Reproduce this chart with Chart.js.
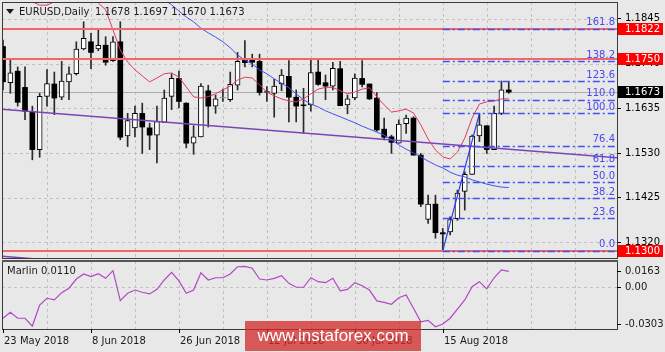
<!DOCTYPE html>
<html>
<head>
<meta charset="utf-8">
<script src="https://cdn.jsdelivr.net/npm/chart.js@4.4.0/dist/chart.umd.min.js"></script>
<style>
html,body{margin:0;padding:0;background:#e8e8e8;}
#wrap{position:relative;width:665px;height:352px;overflow:hidden;background:#e8e8e8;}
#c1{position:absolute;left:0;top:0;}
#c2{position:absolute;left:0;top:259px;}
#wm{position:absolute;left:245px;top:321px;width:176px;height:30px;background:rgba(210,42,42,0.76);color:#fff;
font:17px "Liberation Sans",Arial,sans-serif;line-height:30px;text-align:center;}
</style>
</head>
<body>
<div id="wrap">
<canvas id="c1" width="665" height="259"></canvas>
<canvas id="c2" width="665" height="93"></canvas>
<div id="wm">www.instaforex.com</div>
</div>
<script>
// ---------------- data ----------------
const symbolTitle = 'EURUSD,Daily';
const dateLabels = ['23 May 2018','8 Jun 2018','26 Jun 2018','12 Jul 2018','30 Jul 2018','15 Aug 2018'];
const dateBars = [0,12,24,36,48,60];
const gridBars = [6,12,18,24,30,36,42,48,54,60,66,72,78];
const priceTicks = [1.1320,1.1425,1.1530,1.1635,1.1740,1.1845];

const opens = [1.1780,1.1695,1.1722,1.1684,1.1626,1.1538,1.1663,1.1692,1.1661,1.1697,
1.1716,1.1774,1.1791,1.1774,1.1783,1.1747,1.1791,1.1570,1.1589,1.1623,
1.1589,1.1572,1.1602,1.1663,1.1705,1.1647,1.1553,1.1568,1.1676,1.1640,
1.1659,1.1655,1.1689,1.1749,1.1749,1.1745,1.1674,1.1670,1.1692,1.1710,
1.1661,1.1643,1.1643,1.1720,1.1695,1.1687,1.1728,1.1643,1.1659,1.1705,
1.1692,1.1659,1.1586,1.1568,1.1553,1.1599,1.1612,1.1525,1.1374,1.1410,
1.1343,1.1345,1.1376,1.1440,1.1480,1.1570,1.1594,1.1538,1.1623,1.1678];
const highs = [1.1795,1.1749,1.1732,1.1732,1.1640,1.1670,1.1726,1.1720,1.1745,1.1732,
1.1791,1.1838,1.1811,1.1818,1.1803,1.1803,1.1838,1.1623,1.1640,1.1647,
1.1600,1.1640,1.1678,1.1716,1.1722,1.1648,1.1594,1.1693,1.1689,1.1666,
1.1680,1.1720,1.1766,1.1794,1.1762,1.1762,1.1686,1.1703,1.1726,1.1747,
1.1678,1.1682,1.1749,1.1749,1.1713,1.1743,1.1745,1.1666,1.1716,1.1747,
1.1692,1.1672,1.1612,1.1572,1.1608,1.1619,1.1615,1.1529,1.1431,1.1431,
1.1353,1.1380,1.1443,1.1486,1.1572,1.1623,1.1594,1.1640,1.1699,1.1697];
const lows = [1.1678,1.1670,1.1640,1.1608,1.1514,1.1520,1.1640,1.1620,1.1655,1.1655,
1.1713,1.1772,1.1728,1.1770,1.1736,1.1745,1.1561,1.1545,1.1568,1.1529,
1.1538,1.1507,1.1602,1.1632,1.1636,1.1542,1.1527,1.1568,1.1591,1.1623,
1.1651,1.1651,1.1678,1.1732,1.1732,1.1666,1.1651,1.1614,1.1676,1.1603,
1.1603,1.1576,1.1628,1.1689,1.1655,1.1678,1.1641,1.1622,1.1655,1.1685,
1.1655,1.1581,1.1561,1.1529,1.1553,1.1576,1.1525,1.1404,1.1365,1.1330,
1.1301,1.1338,1.1372,1.1396,1.1480,1.1557,1.1529,1.1538,1.1620,1.1670];
const closes = [1.1697,1.1718,1.1649,1.1628,1.1538,1.1663,1.1693,1.1659,1.1699,1.1716,
1.1774,1.1799,1.1766,1.1783,1.1743,1.1791,1.1567,1.1606,1.1623,1.1591,
1.1572,1.1604,1.1659,1.1705,1.1651,1.1553,1.1568,1.1687,1.1640,1.1657,
1.1660,1.1691,1.1745,1.1742,1.1743,1.1672,1.1673,1.1687,1.1713,1.1661,
1.1640,1.1641,1.1719,1.1691,1.1687,1.1729,1.1641,1.1657,1.1706,1.1691,
1.1657,1.1584,1.1567,1.1555,1.1598,1.1612,1.1525,1.1410,1.1410,1.1343,
1.1340,1.1374,1.1436,1.1480,1.1570,1.1596,1.1538,1.1623,1.1678,1.1673];

const redMA = [null,null,null,1.1899,1.1885,1.1877,1.1877,1.1885,1.1901,1.1901,
1.1901,1.1901,1.1901,1.1882,1.1866,1.1819,1.1772,1.1744,1.1725,1.1711,
1.1697,1.1706,1.1716,1.1718,1.1708,1.1685,1.1662,1.1659,1.1662,1.1669,
1.1678,1.1687,1.1701,1.1708,1.1706,1.1690,1.1673,1.1664,1.1657,1.1652,
1.1650,1.1657,1.1669,1.1680,1.1684,1.1684,1.1676,1.1669,1.1673,1.1680,
1.1683,1.1662,1.1643,1.1626,1.1629,1.1633,1.1624,1.1596,1.1563,1.1537,
1.1521,1.1516,1.1532,1.1565,1.1612,1.1645,1.1650,1.1652,1.1657,1.1657];
const blueMA = [null,null,null,null,null,null,null,null,null,null,
null,null,null,null,null,null,null,null,null,null,
null,1.1903,1.1889,1.1878,1.1863,1.1849,1.1838,1.1823,1.1812,1.1802,
1.1791,1.1777,1.1760,1.1748,1.1739,1.1725,1.1716,1.1704,1.1694,1.1683,
1.1669,1.1655,1.1645,1.1638,1.1629,1.1622,1.1615,1.1608,1.1601,1.1593,
1.1586,1.1579,1.1572,1.1561,1.1549,1.1539,1.1530,1.1521,1.1511,1.1502,
1.1495,1.1485,1.1478,1.1474,1.1467,1.1462,1.1457,1.1453,1.1450,1.1449];

const marlinName = 'Marlin';
const marlin = [-0.0226,-0.0183,-0.0226,-0.0226,-0.0282,-0.0131,-0.0083,-0.0095,-0.0043,-0.0011,
0.0055,0.0091,0.0072,0.0093,0.0060,0.0115,-0.0100,-0.0047,-0.0024,-0.0040,
-0.0052,-0.0019,0.0048,0.0103,0.0041,-0.0047,-0.0024,0.0100,0.0048,0.0064,
0.0064,0.0091,0.0143,0.0146,0.0132,0.0055,0.0048,0.0060,0.0079,0.0024,
-0.0004,-0.0004,0.0064,0.0036,0.0029,0.0060,-0.0029,-0.0019,0.0029,0.0007,
-0.0024,-0.0102,-0.0112,-0.0126,-0.0079,-0.0059,-0.0155,-0.0251,-0.0241,-0.0287,
-0.0267,-0.0226,-0.0160,-0.0095,0.0000,0.0036,-0.0016,0.0064,0.0120,0.0110];
const marlinScaleValues = [0.0163, 0, -0.0303];
const marlinScaleLabels = ['0.0163','0.00','-0.0303'];

const trendBars = [-0.41, 83.77];
const trendPrices = [1.1633, 1.1519];
const channelPrices = [1.1288, 1.1174];

const levelLines = [1.1822, 1.1750, 1.1300];
const bidPrice = 1.1673;

const fibNames = ['0.0','23.6','38.2','50.0','61.8','76.4','100.0','110.0','123.6','138.2','161.8'];
const fibPrices = [1.1301,1.1377,1.1424,1.1462,1.1500,1.1547,1.1623,1.1655,1.1699,1.1746,1.1822];
const fibAnchorBars = [60, 65];
const fibAnchorPrices = [1.1301, 1.1623];

// ---------------- helpers ----------------
const FONT = '10px "DejaVu Sans", sans-serif';
const xMin = -0.14, xMax = 83.77;
const yMin = 1.12836, yMax = 1.18844;

const upBodies = [], downBodies = [], wicks = [];
opens.forEach((o, i) => {
  const c = closes[i];
  (c >= o ? upBodies : downBodies).push({x: i, y: [o, c]});
  wicks.push({x: i, y: [lows[i], highs[i]]});
});
const toPts = arr => arr.map((v, i) => ({x: i, y: v}));
const pair = (xs, ys) => xs.map((x, i) => ({x, y: ys[i]}));

function hline(ctx, x1, x2, y) { ctx.beginPath(); ctx.moveTo(x1, y); ctx.lineTo(x2, y); ctx.stroke(); }
function vline(ctx, x, y1, y2) { ctx.beginPath(); ctx.moveTo(x, y1); ctx.lineTo(x, y2); ctx.stroke(); }

Chart.defaults.font.family = '"DejaVu Sans", sans-serif';
Chart.defaults.font.size = 10;

const lineDs = (data, color, width) => ({type: 'line', data, borderColor: color, borderWidth: width,
  pointRadius: 0, fill: false, tension: 0, spanGaps: false});

const mainDeco = {
  id: 'mainDeco',
  beforeDatasetsDraw(chart) {
    const {ctx, chartArea: a, scales: {x, y}} = chart;
    ctx.save();
    ctx.beginPath(); ctx.rect(a.left, a.top, a.right - a.left, a.bottom - a.top); ctx.clip();
    ctx.strokeStyle = '#c2c2c2'; ctx.lineWidth = 1; ctx.setLineDash([3, 3]);
    gridBars.forEach(b => { const px = Math.round(x.getPixelForValue(b)) + 0.5; vline(ctx, px, a.top, a.bottom); });
    priceTicks.forEach(v => { const py = Math.round(y.getPixelForValue(v)) + 0.5; hline(ctx, a.left, a.right, py); });
    ctx.setLineDash([]);
    ctx.strokeStyle = '#adadad';
    hline(ctx, a.left, a.right, Math.round(y.getPixelForValue(bidPrice)) + 0.5);
    ctx.restore();
  },
  afterDatasetsDraw(chart) {
    const {ctx, chartArea: a, scales: {x, y}} = chart;
    ctx.save();
    ctx.beginPath(); ctx.rect(a.left, a.top, a.right - a.left, a.bottom - a.top); ctx.clip();
    // horizontal level lines
    ctx.fillStyle = '#f26767';
    levelLines.forEach(v => { const py = Math.round(y.getPixelForValue(v)); ctx.fillRect(a.left, py - 1, a.right - a.left, 2); });
    // fibo levels
    const x0 = x.getPixelForValue(fibAnchorBars[0]);
    ctx.strokeStyle = '#4052f0'; ctx.lineWidth = 1.3; ctx.setLineDash([7, 3, 2, 3]);
    fibPrices.forEach(v => { const py = Math.round(y.getPixelForValue(v)) + 0.5; hline(ctx, x0, a.right, py); });
    ctx.setLineDash([]);
    ctx.fillStyle = '#4848ee'; ctx.font = FONT; ctx.textAlign = 'right'; ctx.textBaseline = 'middle';
    fibPrices.forEach((v, i) => { const py = y.getPixelForValue(v); ctx.fillText(fibNames[i], a.right - 2, py - 6); });
    ctx.restore();

    // frame
    ctx.save();
    ctx.strokeStyle = '#3a3a3a'; ctx.lineWidth = 1;
    ctx.strokeRect(a.left + 0.5, a.top + 0.5, a.right - a.left, a.bottom - a.top);
    // header
    ctx.fillStyle = '#1a1a1a';
    ctx.beginPath(); ctx.moveTo(6, 9); ctx.lineTo(14, 9); ctx.lineTo(10, 14); ctx.closePath(); ctx.fill();
    ctx.font = FONT; ctx.textAlign = 'left'; ctx.textBaseline = 'middle';
    ctx.fillText(symbolTitle, 19, 12);
    const last = opens.length - 1;
    ctx.fillText([opens[last], highs[last], lows[last], closes[last]].map(v => v.toFixed(4)).join(' '), 95, 12);
    // right price boxes
    const box = (v, bg) => {
      const py = Math.round(y.getPixelForValue(v));
      ctx.fillStyle = bg; ctx.fillRect(a.right + 1, py - 6, 45, 12);
      ctx.fillStyle = '#ffffff'; ctx.fillText(v.toFixed(4), a.right + 8, py + 0.5);
    };
    levelLines.forEach(v => box(v, '#ff0000'));
    box(bidPrice, '#000000');
    ctx.restore();
  }
};

new Chart(document.getElementById('c1'), {
  type: 'bar',
  data: {
    datasets: [
      lineDs(pair(fibAnchorBars, fibAnchorPrices), '#2a3af0', 1.2),
      lineDs(toPts(redMA), '#e23a5c', 1),
      lineDs(toPts(blueMA), '#3f53f2', 1),
      lineDs(pair(trendBars, trendPrices), '#7c44b4', 1.5),
      lineDs(pair(trendBars, channelPrices), '#7c44b4', 1.5),
      {label: 'up', data: upBodies, backgroundColor: '#ffffff', borderColor: '#000000', borderWidth: 1,
       borderSkipped: false, barThickness: 5, maxBarThickness: 5, grouped: false},
      {label: 'down', data: downBodies, backgroundColor: '#000000', borderColor: '#000000', borderWidth: 0,
       barThickness: 5, maxBarThickness: 5, grouped: false},
      {label: 'wick', data: wicks, backgroundColor: '#2a2a2a', borderWidth: 0,
       barThickness: 1, maxBarThickness: 1, grouped: false}
    ]
  },
  options: {
    responsive: false, animation: false, events: [], devicePixelRatio: 1,
    layout: {padding: {left: 2, top: 2, right: 0, bottom: 1}},
    plugins: {legend: {display: false}, tooltip: {enabled: false}},
    scales: {
      x: {type: 'linear', min: xMin, max: xMax, display: false, offset: false},
      y: {type: 'linear', position: 'right', min: yMin, max: yMax, stacked: false, beginAtZero: false,
          afterFit: s => { s.width = 48; s.paddingTop = 0; s.paddingBottom = 0; },
          afterBuildTicks: s => { s.ticks = priceTicks.map(v => ({value: v})); },
          ticks: {autoSkip: false, padding: 4, color: '#000', font: {size: 10}, callback: v => Number(v).toFixed(4)},
          grid: {drawOnChartArea: false, drawTicks: true, tickLength: 4, tickColor: '#000', tickWidth: 1},
          border: {display: false}}
    }
  },
  plugins: [mainDeco]
});

const subDeco = {
  id: 'subDeco',
  beforeDatasetsDraw(chart) {
    const {ctx, chartArea: a, scales: {x, y}} = chart;
    ctx.save();
    ctx.strokeStyle = '#c2c2c2'; ctx.lineWidth = 1; ctx.setLineDash([3, 3]);
    gridBars.forEach(b => { const px = Math.round(x.getPixelForValue(b)) + 0.5; vline(ctx, px, a.top, a.bottom); });
    hline(ctx, a.left, a.right, Math.round(y.getPixelForValue(0)) + 0.5);
    ctx.restore();
  },
  afterDatasetsDraw(chart) {
    const {ctx, chartArea: a, scales: {x, y}} = chart;
    ctx.save();
    ctx.strokeStyle = '#3a3a3a'; ctx.lineWidth = 1;
    ctx.strokeRect(a.left + 0.5, a.top + 0.5, a.right - a.left, a.bottom - a.top);
    ctx.fillStyle = '#555'; ctx.fillRect(a.left, a.top - 1, a.right - a.left + 1, 2);
    ctx.fillStyle = '#1a1a1a'; ctx.font = FONT; ctx.textBaseline = 'middle'; ctx.textAlign = 'left';
    ctx.fillText(marlinName + ' ' + marlin[marlin.length - 1].toFixed(4), 7, a.top + 10.5);
    // right labels
    const offs = [7, 0, -5];
    marlinScaleValues.forEach((v, i) => {
      const py = Math.round(y.getPixelForValue(v) + offs[i]) + 0.5;
      ctx.strokeStyle = '#000'; hline(ctx, a.right, a.right + 4, py);
      ctx.fillText(marlinScaleLabels[i], a.right + 8, py);
    });
    // date labels
    dateBars.forEach((b, i) => {
      const px = Math.round(x.getPixelForValue(b)) + 0.5;
      vline(ctx, px, a.bottom, a.bottom + 4);
      ctx.fillText(dateLabels[i], px + 0.5, a.bottom + 12);
    });
    ctx.restore();
  }
};

new Chart(document.getElementById('c2'), {
  type: 'line',
  data: {datasets: [lineDs(toPts(marlin), '#b446c6', 1.2)]},
  options: {
    responsive: false, animation: false, events: [], devicePixelRatio: 1,
    layout: {padding: {left: 2, top: 2, right: 48, bottom: 23}},
    plugins: {legend: {display: false}, tooltip: {enabled: false}},
    scales: {
      x: {type: 'linear', min: xMin, max: xMax, display: false},
      y: {type: 'linear', min: -0.0303, max: 0.0184, display: false}
    }
  },
  plugins: [subDeco]
});
</script>
</body>
</html>
